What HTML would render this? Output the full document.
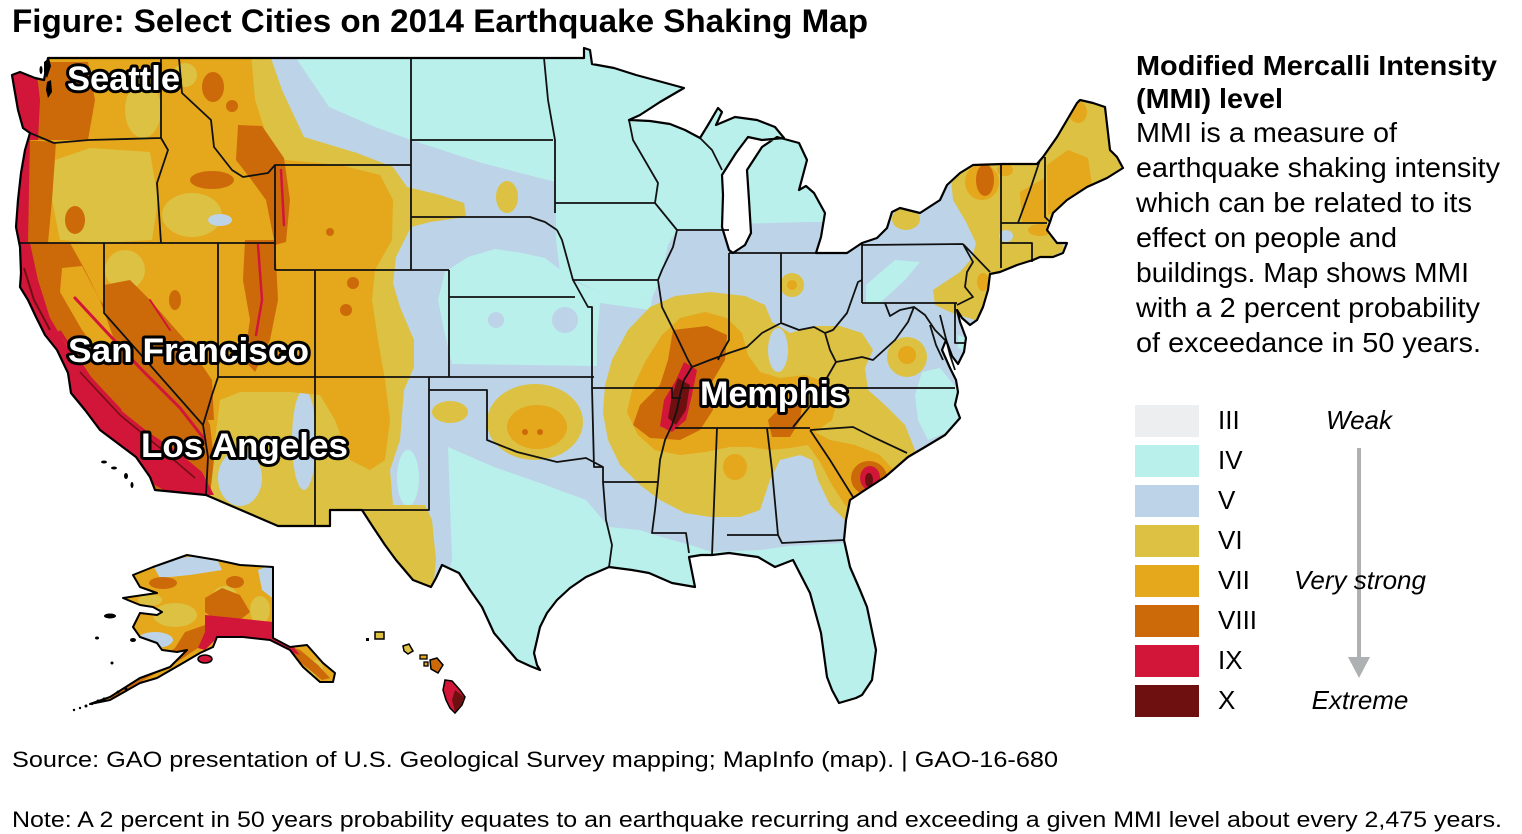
<!DOCTYPE html>
<html><head><meta charset="utf-8">
<style>
html,body{margin:0;padding:0;background:#fff;}
svg{display:block;}
text{font-family:"Liberation Sans",Arial,sans-serif;}
</style></head><body>
<svg width="1522" height="834" viewBox="0 0 1522 834" xmlns="http://www.w3.org/2000/svg">
<defs>
<clipPath id="us"><path id="usp" d="M48,58 L544,58 L584,58 L584,48 L590,50 L592,64 L614,68 L636,75 L662,82 L684,88 L660,102 L640,115 L629,120 L650,121 L670,124 L685,130 L700,138 L708,125 L718,108 L722,112 L716,125 L735,117 L757,120 L775,127 L784,138 L762,140 L748,137 L736,153 L722,175 L723,195 L722,227 L729,250 L733,253 L745,245 L751,233 L749,200 L747,170 L762,147 L777,137 L799,143 L807,160 L799,190 L806,186 L814,193 L825,213 L821,237 L816,253 L847,253 L862,243 L877,238 L887,228 L892,212 L900,208 L920,213 L940,200 L947,185 L960,173 L973,165 L1002,164 L1037,164 L1043,157 L1057,137 L1067,120 L1077,103 L1080,100 L1093,103 L1105,107 L1110,150 L1117,157 L1123,168 L1107,178 L1087,187 L1067,200 L1053,213 L1050,222 L1047,230 L1057,243 L1067,243 L1063,253 L1053,257 L1040,257 L1033,260 L1017,265 L1000,272 L990,274 L988,290 L983,307 L977,320 L970,325 L962,318 L957,310 L960,322 L966,338 L964,352 L958,364 L952,356 L946,340 L942,350 L950,368 L956,380 L958,392 L955,405 L960,418 L945,435 L925,447 L908,457 L885,477 L865,490 L850,500 L846,520 L844,540 L850,567 L860,590 L867,607 L876,650 L872,680 L862,695 L856,698 L839,703 L832,690 L827,677 L821,633 L810,593 L793,560 L775,567 L758,557 L729,553 L712,555 L701,555 L689,557 L692,572 L695,587 L672,583 L649,573 L632,570 L609,567 L586,577 L570,588 L557,600 L547,613 L540,627 L534,653 L537,665 L540,670 L530,666 L517,660 L505,646 L494,633 L482,607 L470,590 L459,573 L442,565 L436,578 L431,587 L413,580 L396,560 L385,545 L373,527 L362,510 L330,510 L330,526 L278,526 L206,495 L155,490 L150,477 L136,457 L120,445 L100,430 L85,410 L71,393 L68,373 L57,350 L45,335 L36,317 L28,300 L20,287 L21,273 L20,247 L16,227 L18,200 L21,173 L25,150 L30,133 L23,128 L18,110 L14,87 L12,75 L20,72 L35,78 L44,80 L48,58 Z"/></clipPath>
<clipPath id="ak"><path id="akp" d="M133,575 L153,567 L187,555 L217,560 L240,565 L273,567 L273,638 L290,647 L307,645 L323,663 L335,673 L333,682 L320,682 L303,667 L290,650 L270,640 L243,637 L217,637 L213,647 L200,653 L183,663 L157,678 L140,683 L110,700 L90,704 L110,697 L140,678 L170,667 L187,650 L177,652 L162,650 L157,643 L140,637 L133,627 L140,613 L157,615 L162,612 L153,607 L140,605 L123,598 L157,593 L140,587 Z"/></clipPath>
</defs>

<rect width="1522" height="834" fill="#fff"/>

<!-- Title -->
<text x="12" y="32" font-size="32" font-weight="bold" fill="#000" textLength="856" lengthAdjust="spacingAndGlyphs">Figure: Select Cities on 2014 Earthquake Shaking Map</text>

<!-- ============ LOWER 48 ============ -->
<g clip-path="url(#us)">
  <rect x="0" y="40" width="1130" height="680" fill="#bdd3e7"/>
  <!-- IV cyan areas -->
  <g fill="#b9f0ec">
    <path d="M296,40 L296,58 L329,107 L375,127 L411,140 L482,163 L536,177 L556,182 L556,240 L560,272 L578,282 L600,292 L652,298 L660,280 L668,245 L677,230 L729,230 L735,224 L810,222 L830,222 L850,150 L900,40 Z"/>
    <path d="M445,272 L468,257 L495,249 L522,253 L545,258 L558,268 L575,282 L600,292 L652,298 L650,310 L600,303 L597,340 L597,366 L452,364 L444,330 L438,300 Z"/>
    <path d="M448,447 L494,467 L540,483 L586,500 L609,527 L640,530 L655,535 L690,545 L712,552 L760,550 L790,546 L844,543 L852,548 L900,560 L900,720 L400,720 L440,600 L452,560 Z"/>
    <path d="M922,372 L940,368 L958,390 L960,418 L948,432 L928,440 L918,420 L915,395 Z"/>
    <path d="M866,285 L895,260 L920,262 L905,280 L880,303 L866,303 Z"/>
    <path d="M958,335 L966,338 L966,352 L958,348 Z"/>
    <ellipse cx="408" cy="478" rx="11" ry="28"/>
  </g>
  <g fill="#bdd3e7">
    <circle cx="565" cy="320" r="13"/>
    <circle cx="496" cy="320" r="8"/>
  </g>
  <!-- VI -->
  <g fill="#dcc142">
    <path d="M0,40 L271,40 L271,58 L282,90 L304,137 L357,153 L393,167 L407,187 L440,195 L464,203 L466,217 L430,222 L411,227 L396,257 L393,283 L400,307 L414,340 L414,367 L404,390 L400,440 L390,470 L393,505 L425,505 L432,520 L436,560 L432,600 L0,600 Z"/>
    <path d="M603,413 L605,385 L612,360 L628,330 L650,307 L675,296 L710,292 L745,296 L765,305 L772,322 L790,333 L815,326 L840,326 L862,333 L873,350 L865,368 L868,390 L885,405 L905,425 L915,450 L905,470 L890,505 L870,525 L850,525 L830,505 L818,480 L812,460 L800,455 L780,460 L770,480 L760,510 L740,517 L710,517 L685,513 L660,500 L640,485 L620,465 L608,440 Z"/>
    <path d="M950,165 L1000,160 L1050,140 L1070,100 L1110,100 L1125,165 L1070,205 L1055,230 L1065,250 L1040,262 L1000,275 L990,290 L985,310 L975,320 L950,312 L935,305 L933,290 L945,282 L960,272 L972,258 L976,243 L966,222 L953,200 Z"/>
    <ellipse cx="906" cy="219" rx="14" ry="11"/>
    <ellipse cx="450" cy="412" rx="18" ry="11"/>
    <ellipse cx="535" cy="422" rx="48" ry="38"/>
    <ellipse cx="507" cy="197" rx="11" ry="16"/>
    <circle cx="792" cy="285" r="12"/>
    <circle cx="907" cy="357" r="20"/>
  </g>
  <!-- V overlays on VI -->
  <g fill="#bdd3e7">
    <ellipse cx="778" cy="350" rx="10" ry="22"/>
    <ellipse cx="240" cy="478" rx="22" ry="28"/>
    <ellipse cx="304" cy="440" rx="12" ry="50"/>
    <ellipse cx="1006" cy="236" rx="7" ry="6"/>
  </g>
  <!-- VII -->
  <g fill="#e5a71b">
    <path d="M0,40 L250,40 L255,100 L268,140 L285,160 L340,165 L380,175 L393,200 L392,240 L375,270 L372,300 L378,340 L385,380 L390,420 L385,460 L370,470 L350,460 L335,420 L320,395 L290,392 L240,392 L220,400 L215,440 L205,470 L190,495 L0,495 Z"/>
    <path d="M627,412 L632,390 L645,362 L662,335 L680,318 L705,312 L727,318 L742,333 L748,355 L760,372 L780,378 L805,375 L825,382 L838,398 L832,420 L815,432 L830,440 L855,445 L880,455 L898,475 L895,495 L880,512 L862,515 L845,505 L832,485 L820,462 L808,445 L790,448 L770,450 L750,447 L730,447 L705,452 L680,455 L655,450 L638,435 Z"/>
    <ellipse cx="735" cy="467" rx="12" ry="13"/>
    <ellipse cx="537" cy="427" rx="30" ry="22"/>
    <circle cx="792" cy="285" r="5"/>
    <circle cx="907" cy="355" r="9"/>
    <ellipse cx="982" cy="182" rx="17" ry="18"/>
    <path d="M1020,192 L1045,178 L1047,222 L1022,222 Z"/>
    <path d="M1047,165 L1068,150 L1088,158 L1092,185 L1065,205 L1048,215 Z"/>
    <ellipse cx="1078" cy="112" rx="9" ry="11"/>
    <ellipse cx="1040" cy="230" rx="12" ry="6"/>
    <ellipse cx="983" cy="282" rx="6" ry="9"/>
    <ellipse cx="1005" cy="170" rx="8" ry="6"/>
  </g>
  <!-- VI patches on VII (west) -->
  <g fill="#dcc142">
    <ellipse cx="143" cy="110" rx="18" ry="28"/>
    <path d="M55,160 L90,148 L150,152 L158,200 L152,240 L100,243 L60,240 L52,200 Z"/>
    <ellipse cx="192" cy="215" rx="30" ry="22"/>
    <ellipse cx="125" cy="270" rx="20" ry="20"/>
    <ellipse cx="185" cy="75" rx="12" ry="12"/>
  </g>
  <ellipse cx="220" cy="220" rx="12" ry="6" fill="#bdd3e7"/>
  <!-- VIII -->
  <g fill="#cc6a0a">
    <path d="M30,62 L88,62 L95,100 L88,140 L30,140 Z"/>
    <path d="M22,140 L56,142 L52,200 L48,243 L18,243 Z"/>
    <ellipse cx="75" cy="220" rx="10" ry="14"/>
    <path d="M18,243 L70,243 L85,270 L100,300 L125,330 L160,365 L195,395 L210,425 L214,460 L210,495 L150,495 L120,460 L90,430 L65,390 L45,340 L25,295 Z"/>
    <path d="M104,285 L130,280 L150,300 L185,340 L212,380 L214,420 L195,420 L165,380 L125,330 L104,310 Z"/>
    <ellipse cx="160" cy="330" rx="8" ry="14"/>
    <ellipse cx="175" cy="300" rx="6" ry="10"/>
    <path d="M245,240 L275,240 L278,300 L270,340 L255,372 L244,360 L250,320 L243,280 Z"/>
    <path d="M238,125 L262,126 L284,158 L290,200 L286,242 L275,245 L266,200 L250,178 L236,160 Z"/>
    <ellipse cx="212" cy="180" rx="22" ry="9"/>
    <ellipse cx="213" cy="87" rx="11" ry="15"/>
    <circle cx="232" cy="106" r="6"/>
    <circle cx="330" cy="232" r="4"/>
    <circle cx="353" cy="283" r="6"/>
    <circle cx="346" cy="310" r="6"/>
    <circle cx="525" cy="432" r="3"/>
    <circle cx="540" cy="432" r="3"/>
    <path d="M673,330 L707,326 L727,335 L725,360 L712,382 L713,410 L700,430 L680,440 L650,438 L633,425 L640,405 L660,385 L668,360 Z"/>
    <path d="M768,420 L785,403 L803,398 L800,420 L790,437 L772,437 Z"/>
    <ellipse cx="869" cy="478" rx="18" ry="17"/>
    <ellipse cx="985" cy="180" rx="9" ry="16"/>
  </g>
  <!-- VII on VIII (CA valley) -->
  <path d="M62,268 L82,266 L100,300 L116,345 L104,360 L82,330 L60,292 Z" fill="#e5a71b"/>
  <!-- IX -->
  <g fill="#d1163a">
    <path d="M10,70 L36,66 L40,100 L38,140 L22,140 L12,100 Z"/>
    <path d="M15,138 L30,138 L28,243 L15,243 Z"/>
    <path d="M15,243 L30,243 L38,280 L50,318 L68,348 L92,378 L118,408 L148,432 L178,452 L202,472 L214,495 L172,495 L150,482 L124,463 L98,440 L74,405 L55,370 L38,330 L20,290 Z"/>
    <path d="M684,362 L697,370 L692,395 L686,420 L672,432 L660,426 L664,400 L676,380 Z"/>
    <ellipse cx="870" cy="478" rx="10" ry="12"/>
  </g>
  <g fill="none" stroke="#d1163a" stroke-width="3" stroke-linecap="round">
    <path d="M75,298 L100,325 L140,368 L180,408 L205,440"/>
    <path d="M60,332 L90,378 L120,410"/>
    <path d="M258,245 L262,300 L256,335" stroke-width="2.5"/>
    <path d="M281,170 L284,225" stroke-width="2.5"/>
    <path d="M150,300 L170,330" stroke-width="2"/>
  </g>
  <!-- X -->
  <g fill="#6f1010">
    <path d="M678,378 L690,385 L686,410 L676,425 L668,418 L672,395 Z"/>
    <ellipse cx="869" cy="480" rx="4" ry="7"/>
  </g>
  <g fill="none" stroke="#6f1010" stroke-width="2">
    <path d="M24,268 L34,300 L50,330"/>
    <path d="M80,372 L120,415 L160,448 L195,478" stroke-width="1.5"/>
  </g>
</g>

<!-- state lines -->
<path fill="none" stroke="#111" stroke-width="1.8" stroke-linejoin="round" d="
M30,133 L54,143 L89,140 L161,138
M161,58 L161,138 L168,150 L157,183 L161,243
M20,243 L275,243
M179,58 L182,93 L211,120 L214,147 L232,170 L243,177 L268,173 L275,165 L275,270
M275,165 L411,165
M411,58 L411,270
M275,270 L449,270
M315,270 L315,526
M218,377 L594,377
M218,243 L218,377 L212,395 L203,425
M104,243 L104,313 L203,425 L208,457 L206,495
M449,270 L449,377
M411,140 L553,140
M411,217 L530,217 L545,222 L557,230
M449,297 L575,297
M544,58 L548,100 L555,140 L555,213
M557,230 L562,240 L573,280 L588,307 L592,307 L592,388 L594,467 L603,467 L603,482 L606,520 L612,545 L609,567
M555,203 L655,203
M573,280 L658,280
M655,203 L658,183 L633,140 L629,120
M429,377 L429,510 L362,510
M429,390 L487,390 L487,440 L517,452 L557,462 L586,458 L603,467
M603,482 L658,482
M655,203 L677,230 L673,247 L662,270 L658,280 L662,307 L670,323 L677,337 L688,360 L692,367 L684,380 L680,395 L677,410 L672,425 L665,440 L660,460 L658,482 L655,510 L652,533 L686,533 L689,553
M592,388 L672,388 L672,398 L681,398
M681,388 L955,388
M675,428 L810,428
M821,388 L815,400 L793,427
M810,430 L830,460 L853,497
M810,430 L853,427 L873,437 L907,453
M717,428 L712,555
M767,428 L772,470 L778,535
M727,535 L778,535 L782,543 L844,540
M677,230 L729,230
M729,253 L729,340 L722,352 L718,360
M729,253 L816,253
M781,253 L781,323
M692,367 L710,360 L729,353 L747,347 L762,333 L781,323 L799,330 L814,327 L825,333 L833,330 L847,313 L858,282 L862,280
M862,243 L862,303
M862,245 L963,244
M862,303 L957,303
M963,244 L973,262 L967,272 L965,287 L973,297 L957,305
M963,244 L990,272
M955,303 L955,343 L966,343
M825,333 L830,350 L836,362 L821,388
M836,362 L847,360 L862,357 L873,360 L895,340 L908,322 L914,307 L900,310 L890,316 L885,303
M914,307 L925,315 L935,330 L945,340
M1001,164 L1001,268
M1040,160 L1030,190 L1018,223
M1045,157 L1045,217 L1050,222
M1001,223 L1047,223
M1001,243 L1032,243 L1032,262
M700,138 L712,150 L722,170
M940,315 L945,335 L950,355 L955,370
M930,325 L936,345 L943,360
"/>
<use href="#usp" fill="none" stroke="#000" stroke-width="2.2" stroke-linejoin="round"/>
<!-- Puget sound islands -->
<g fill="#000">
  <path d="M44,62 L49,58 L51,66 L47,78 L44,72 Z"/>
  <path d="M47,82 L51,80 L52,92 L48,98 L46,90 Z"/>
  <ellipse cx="41" cy="70" rx="1.5" ry="4"/>
</g>
<!-- Channel islands -->
<g fill="#000">
  <ellipse cx="104" cy="462" rx="3" ry="1.5"/>
  <ellipse cx="114" cy="468" rx="3" ry="1.5"/>
  <ellipse cx="126" cy="476" rx="2" ry="3"/>
  <ellipse cx="132" cy="485" rx="1.5" ry="3"/>
</g>

<!-- ============ ALASKA ============ -->
<g clip-path="url(#ak)">
  <rect x="80" y="545" width="270" height="170" fill="#e5a71b"/>
  <g fill="#bdd3e7">
    <path d="M150,560 L215,555 L222,570 L190,575 L160,578 Z"/>
    <path d="M258,570 L275,563 L275,600 L262,590 Z"/>
    <ellipse cx="155" cy="640" rx="18" ry="8"/>
  </g>
  <g fill="#dcc142">
    <ellipse cx="175" cy="615" rx="22" ry="12"/>
    <ellipse cx="225" cy="596" rx="12" ry="10"/>
    <ellipse cx="260" cy="610" rx="10" ry="14"/>
    <ellipse cx="150" cy="600" rx="12" ry="6"/>
    <ellipse cx="315" cy="668" rx="8" ry="8"/>
  </g>
  <g fill="#cc6a0a">
    <path d="M205,598 L222,588 L240,595 L250,612 L240,620 L215,620 L205,612 Z"/>
    <ellipse cx="163" cy="583" rx="14" ry="6"/>
    <ellipse cx="235" cy="582" rx="9" ry="6"/>
    <path d="M185,632 L205,625 L210,640 L180,660 L140,682 L112,698 L108,695 L150,666 L175,648 Z"/>
    <path d="M278,642 L300,650 L318,665 L330,678 L322,680 L300,662 Z"/>
  </g>
  <g fill="#d1163a">
    <path d="M205,615 L235,618 L273,622 L273,642 L250,638 L230,636 L215,640 L205,650 L198,648 L205,632 Z"/>
    <path d="M270,636 L292,645 L300,655 L290,652 L275,645 Z"/>
  </g>
</g>
<use href="#akp" fill="none" stroke="#000" stroke-width="2" stroke-linejoin="round"/>
<ellipse cx="205" cy="659" rx="7" ry="4" fill="#d1163a" stroke="#000" stroke-width="1.5"/>
<g fill="#000">
  <circle cx="86" cy="706" r="1.5"/><circle cx="80" cy="708" r="1.2"/><circle cx="74" cy="710" r="1.2"/>
  <circle cx="98" cy="701" r="1.5"/><circle cx="104" cy="699" r="1.5"/><circle cx="118" cy="692" r="1.5"/>
  <circle cx="126" cy="689" r="1.5"/><circle cx="92" cy="704" r="1.2"/>
  <ellipse cx="110" cy="616" rx="6" ry="2.5"/><ellipse cx="97" cy="638" rx="2" ry="1.5"/>
  <ellipse cx="133" cy="640" rx="3" ry="2"/><ellipse cx="112" cy="663" rx="1.5" ry="1.5"/>
</g>

<!-- ============ HAWAII ============ -->
<rect x="366" y="638" width="3" height="3" fill="#000"/>
<rect x="375" y="632" width="9" height="7" fill="#dcc142" stroke="#000" stroke-width="1.5"/>
<path d="M403,646 L409,644 L413,651 L408,654 L404,651 Z" fill="#dcc142" stroke="#000" stroke-width="1.5"/>
<rect x="420" y="655" width="7" height="4" fill="#e5a71b" stroke="#000" stroke-width="1.3"/>
<rect x="424" y="662" width="4" height="4" fill="#e5a71b" stroke="#000" stroke-width="1.3"/>
<path d="M430,660 L437,658 L443,665 L438,673 L431,669 Z" fill="#cc6a0a" stroke="#000" stroke-width="1.5"/>
<path d="M445,680 L452,681 L460,690 L465,697 L462,705 L455,713 L450,708 L446,700 L443,690 Z" fill="#d1163a" stroke="#000" stroke-width="1.5"/>
<path d="M455,690 L464,697 L461,705 L455,712 L452,700 Z" fill="#6f1010"/>

<!-- City labels -->
<g font-size="34" font-weight="bold" fill="#fff" stroke="#000" stroke-width="6" stroke-linejoin="round" paint-order="stroke">
  <text x="67" y="90" textLength="113" lengthAdjust="spacingAndGlyphs">Seattle</text>
  <text x="68" y="362" textLength="241" lengthAdjust="spacingAndGlyphs">San Francisco</text>
  <text x="141" y="457" textLength="207" lengthAdjust="spacingAndGlyphs">Los Angeles</text>
  <text x="700" y="405" textLength="148" lengthAdjust="spacingAndGlyphs">Memphis</text>
</g>

<!-- Right text -->
<g fill="#000" font-size="28">
  <text x="1136" y="75" font-weight="bold" textLength="361" lengthAdjust="spacingAndGlyphs">Modified Mercalli Intensity</text>
  <text x="1136" y="108" font-weight="bold" textLength="147" lengthAdjust="spacingAndGlyphs">(MMI) level</text>
  <text x="1136" y="142" textLength="261" lengthAdjust="spacingAndGlyphs">MMI is a measure of</text>
  <text x="1136" y="177" textLength="364" lengthAdjust="spacingAndGlyphs">earthquake shaking intensity</text>
  <text x="1136" y="212" textLength="336" lengthAdjust="spacingAndGlyphs">which can be related to its</text>
  <text x="1136" y="247" textLength="261" lengthAdjust="spacingAndGlyphs">effect on people and</text>
  <text x="1136" y="282" textLength="333" lengthAdjust="spacingAndGlyphs">buildings. Map shows MMI</text>
  <text x="1136" y="317" textLength="344" lengthAdjust="spacingAndGlyphs">with a 2 percent probability</text>
  <text x="1136" y="352" textLength="345" lengthAdjust="spacingAndGlyphs">of exceedance in 50 years.</text>
</g>

<!-- Legend -->
<rect x="1135" y="405" width="64" height="32" fill="#eceef0"/>
<rect x="1135" y="445" width="64" height="32" fill="#b9f0ec"/>
<rect x="1135" y="485" width="64" height="32" fill="#bdd3e7"/>
<rect x="1135" y="525" width="64" height="32" fill="#dcc142"/>
<rect x="1135" y="565" width="64" height="32" fill="#e5a71b"/>
<rect x="1135" y="605" width="64" height="32" fill="#cc6a0a"/>
<rect x="1135" y="645" width="64" height="32" fill="#d1163a"/>
<rect x="1135" y="685" width="64" height="32" fill="#6f1010"/>
<g font-size="26" fill="#000">
  <text x="1218" y="429">III</text>
  <text x="1218" y="469">IV</text>
  <text x="1218" y="509">V</text>
  <text x="1218" y="549">VI</text>
  <text x="1218" y="589">VII</text>
  <text x="1218" y="629">VIII</text>
  <text x="1218" y="669">IX</text>
  <text x="1218" y="709">X</text>
</g>
<line x1="1359" y1="448" x2="1359" y2="660" stroke="#adb1b1" stroke-width="4"/>
<polygon points="1348,657 1370,657 1359,678" fill="#adb1b1"/>
<g font-size="26" font-style="italic" fill="#000" text-anchor="middle">
  <text x="1359" y="429">Weak</text>
  <text x="1360" y="589">Very strong</text>
  <text x="1360" y="709">Extreme</text>
</g>

<!-- Footer -->
<text x="12" y="767" font-size="22" fill="#000" textLength="1046" lengthAdjust="spacingAndGlyphs">Source: GAO presentation of U.S. Geological Survey mapping; MapInfo (map).  |  GAO-16-680</text>
<text x="12" y="827" font-size="22" fill="#000" textLength="1490" lengthAdjust="spacingAndGlyphs">Note: A 2 percent in 50 years probability equates to an earthquake recurring and exceeding a given MMI level about every 2,475 years.</text>
</svg>
</body></html>
